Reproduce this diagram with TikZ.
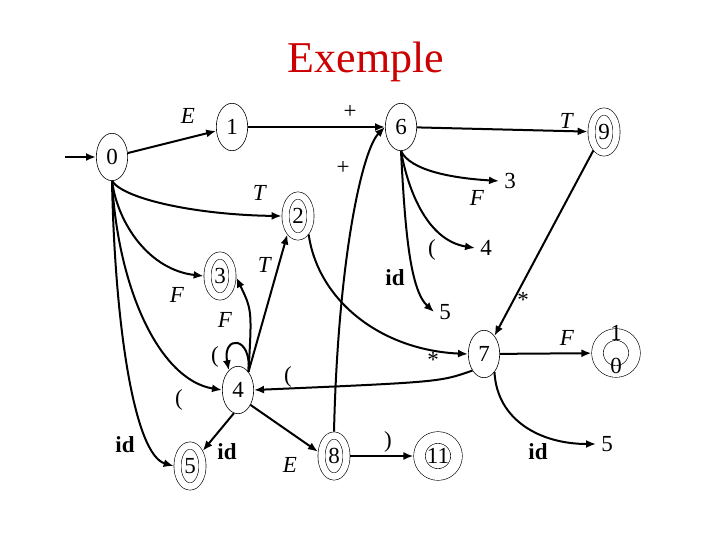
\documentclass[tikz,border=0pt]{standalone}
\usepackage{fontspec}
\setmainfont{Liberation Serif}
\usetikzlibrary{shapes.geometric,arrows.meta}
\definecolor{titelrot}{RGB}{204,0,0}
\tikzset{
	zustand/.style={ellipse, draw, line width=0.6pt, minimum width=31.4pt, minimum height=47.4pt, inner sep=0pt, font=\fontsize{23}{27}\selectfont},
	ende/.style={zustand, double, double distance=6.5pt, minimum width=25pt, minimum height=41pt, outer sep=3.85pt},
	endekreis/.style={circle, draw, line width=0.6pt, double, double distance=11pt, minimum size=37pt, inner sep=0pt, outer sep=6.1pt, font=\fontsize{23}{27}\selectfont},
	kante/.style={line width=2pt, -{Latex[length=10pt,width=8pt]}},
	marke/.style={inner sep=0pt, font=\fontsize{23}{27}\selectfont},
	ziel/.style={inner sep=5pt, font=\fontsize{23}{27}\selectfont}
}
\begin{document}
\begin{tikzpicture}[x=1pt, y=1pt]
		\useasboundingbox (0,0) rectangle (720,-540);
		% Titel
		\node[font=\fontsize{44}{50}\selectfont, text=titelrot] (titel) at (366,-62) {Exemple};
		
		% Zustaende
		\foreach \n/\x/\y/\t in {q0/112/-157/0, q1/232/-127/1, q6/401/-127/6, q4/238/-390/4, q7/484/-354/7}
			\node[zustand] (\n) at (\x,\y) {\t};
		\foreach \n/\x/\y/\t in {q9/604/-132/9, q2/298/-216/2, q3/220/-276/3, q5/190/-466/5, q8/334/-456/8}
			\node[ende] (\n) at (\x,\y) {\t};
		\node[endekreis] (q11) at (438,-456) {11};
		\node[endekreis] (q10) at (616,-353) {\smash{\raisebox{-5pt}{\begin{tabular}{@{}c@{}}1\\[6pt]0\end{tabular}}}};
		
		% Ziele ausserhalb
		\foreach \n/\x/\y/\t in {z3/510/-181/3, z4/486/-248/4, z5a/445/-312/5, z5b/607/-444/5}
			\node[ziel] (\n) at (\x,\y) {\t};
		
		% Kanten
		\coordinate (start) at (65,-157);
		\draw[kante] (start) -- (q0);
		\draw[kante] (q0) -- (q1);
		\draw[kante] (q1) -- (q6);
		\draw[kante] (q6) -- (q9);
		\draw[kante] (q0.south) .. controls (125,-200) and (200,-215) .. (q2.west);
		\draw[kante] (q0.south) .. controls (118,-225) and (150,-270) .. (q3.west);
		\draw[kante] (q0.south) .. controls (118,-290) and (160,-380) .. (q4.west);
		\draw[kante] (q0.south) .. controls (115,-330) and (135,-455) .. (q5.west);
		\draw[kante] (q4.60) .. controls (252,-310) .. (q3.-5);
		\draw[kante] (q4.60) -- (q2.-120);
		\draw[kante] (q4.60) .. controls (252,-335) and (222,-335) .. (q4.115); % Schleife
		\draw[kante] (q4.-100) -- (q5.50);
		\draw[kante] (q4.-50) -- (q8.165);
		\draw[kante] (q8) -- (q11);
		\draw[kante] (q8.north) .. controls (338,-260) and (362,-150) .. (q6.west);
		\draw[kante] (q2.-60) .. controls (318,-300) and (380,-350) .. (q7.west);
		\draw[kante] (q9.-120) -- (q7.60);
		\draw[kante] (q7) -- (q10);
		\draw[kante] (q7.-125) .. controls (440,-382) .. (q4.east);
		\draw[kante] (q7.-60) .. controls (497,-420) and (540,-444) .. (z5b.west);
		\draw[kante] (q6.south) .. controls (410,-170) and (450,-178) .. (z3.west);
		\draw[kante] (q6.south) .. controls (407,-185) and (425,-240) .. (z4.west);
		\draw[kante] (q6.south) .. controls (405,-230) and (410,-290) .. (z5a.west);
		
		% Beschriftung der Kanten
		\foreach \n/\x/\y/\t in {
			lE1/188/-116/{\textit{E}},
			lPlus1/350/-112/{+},
			lPlus2/343/-168/{+},
			lT1/260/-193/{\textit{T}},
			lT2/567/-121/{\textit{T}},
			lF1/477/-198/{\textit{F}},
			lK1/432/-250/{(},
			lId1/395/-278/{\textbf{id}},
			lStern1/523/-300/{*},
			lF2/567/-338/{\textit{F}},
			lStern2/433/-360/{*},
			lK2/288/-377/{(},
			lK3/388/-442/{)},
			lId2/538/-452/{\textbf{id}},
			lT3/265/-265/{\textit{T}},
			lF3/177/-295/{\textit{F}},
			lF4/225/-320/{\textit{F}},
			lK4/215/-357/{(},
			lK5/179/-400/{(},
			lId3/125/-445/{\textbf{id}},
			lId4/227/-452/{\textbf{id}},
			lE2/290/-465/{\textit{E}}
		} {
			\node[marke] (\n) at (\x,\y) {\t};
		}
	\end{tikzpicture}
\end{document}
